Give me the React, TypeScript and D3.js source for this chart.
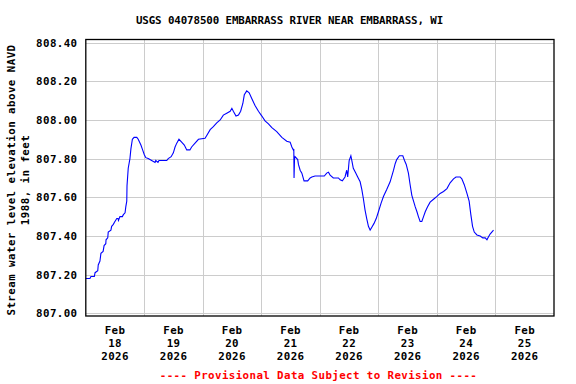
import React from "react";
import * as d3 from "d3";

const title = "USGS 04078500 EMBARRASS RIVER NEAR EMBARRASS, WI";
const yLabelLines = ["Stream water level elevation above NAVD", "1988, in feet"];
const footer = "---- Provisional Data Subject to Revision ----";

const yTicks = [807.0, 807.2, 807.4, 807.6, 807.8, 808.0, 808.2, 808.4];
const xTickDays = [18, 19, 20, 21, 22, 23, 24, 25];

// hours since Feb 18 2026 00:00
const hours = [
  0, 1.7, 2.1, 3.5, 3.8, 4.9, 5.1, 5.8, 6.2, 7.1, 7.5, 8.2, 8.3, 9.0, 9.2, 10.3, 10.6, 11.3, 11.7, 12.7,
  13.2, 13.4, 14.0, 15.0, 15.4, 16.1, 16.4, 16.8, 16.9, 17.4, 18.1, 18.5, 19.1, 19.8, 20.9, 21.5, 22.6, 23.3, 24.0, 24.6,
  25.6, 27.0, 28.4, 28.7, 29.6, 30.0, 33.2, 33.8, 35.0, 35.9, 36.6, 37.3, 38.2, 39.3, 40.4,
  41.4, 42.7, 43.4, 44.8, 46.2, 48.9, 49.6, 51.0, 52.3, 53.7, 55.1, 56.4, 57.8, 59.2, 59.9, 60.5, 61.6, 62.6, 63.5,
  64.4, 65.0, 66.0, 67.0, 68.1, 69.4, 70.8, 72.2, 73.5, 74.9, 76.3, 78.3, 80.4, 82.4, 83.8,
  84.5, 85.1, 85.3, 85.4, 85.6, 85.8, 86.9, 87.2, 87.9, 88.6, 89.5, 91.0, 92.0, 92.7, 94.0, 97.8, 98.8, 99.5, 100.2,
  101.5, 103.6, 104.3, 105.2, 106.3, 107.0, 107.4, 108.0, 108.7, 109.1, 109.7, 110.7, 111.5, 112.5, 113.2, 113.8,
  114.5, 115.2, 115.9, 116.6, 117.3, 118.2, 119.1, 120.0, 121.1, 122.1, 123.4, 124.8, 126.2, 126.9, 127.5, 128.6,
  130.0, 130.7, 131.4, 132.3, 133.0, 133.7, 134.4, 135.1, 135.8, 136.4, 137.1, 137.8, 138.5, 139.2, 140.1, 141.2,
  142.6, 144.0, 145.3, 146.7, 148.1, 149.4, 150.8, 151.8, 153.5, 154.2, 155.2, 156.3, 157.2, 157.9, 158.6, 159.3,
  160.4, 161.7, 162.8, 163.8, 164.5, 165.1, 165.8, 166.5, 167.2,
];

const levels = [
  807.18, 807.18, 807.19, 807.19, 807.21, 807.22, 807.25, 807.27, 807.31, 807.32, 807.35, 807.36, 807.38, 807.39, 807.42, 807.43, 807.45, 807.46, 807.47, 807.49,
  807.49, 807.48, 807.5, 807.5, 807.51, 807.52, 807.55, 807.58, 807.66, 807.75, 807.8, 807.85, 807.9, 807.91, 807.91, 807.9, 807.87, 807.845, 807.82, 807.805,
  807.8, 807.79, 807.78, 807.79, 807.78, 807.79, 807.79, 807.8, 807.81, 807.83, 807.86, 807.88, 807.9, 807.885, 807.87,
  807.845, 807.845, 807.86, 807.88, 807.9, 807.905, 807.92, 807.95, 807.965, 807.985, 808.0, 808.025, 808.035, 808.045, 808.06, 808.045, 808.02, 808.025, 808.045,
  808.085, 808.13, 808.15, 808.14, 808.11, 808.075, 808.045, 808.02, 807.995, 807.98, 807.96, 807.94, 807.91, 807.89, 807.885,
  807.86, 807.845, 807.85, 807.7, 807.8, 807.81, 807.795, 807.77, 807.74, 807.725, 807.685, 807.685, 807.7, 807.705, 807.71, 807.71, 807.725, 807.73, 807.715,
  807.7, 807.7, 807.69, 807.685, 807.705, 807.74, 807.705, 807.79, 807.815, 807.79, 807.75, 807.725, 807.705, 807.68, 807.64, 807.595,
  807.535, 807.49, 807.45, 807.43, 807.445, 807.465, 807.49, 807.525, 807.57, 807.605, 807.64, 807.68, 807.74, 807.775, 807.795, 807.815,
  807.815, 807.79, 807.77, 807.725, 807.665, 807.61, 807.58, 807.55, 807.525, 807.5, 807.475, 807.475, 807.5, 807.525, 807.55, 807.575,
  807.59, 807.605, 807.62, 807.63, 807.645, 807.675, 807.695, 807.705, 807.705, 807.695, 807.665, 807.62, 807.58, 807.51, 807.45, 807.42,
  807.405, 807.4, 807.39, 807.39, 807.38, 807.395, 807.41, 807.42, 807.43,
];

const W = 576;
const H = 384;
const font = "'DejaVu Sans Mono', monospace";
const start = Date.UTC(2026, 1, 18);

export default function App() {
  const x = d3
    .scaleUtc()
    .domain([new Date(start), new Date(Date.UTC(2026, 1, 26))])
    .range([85.8, 554]);
  const y = d3.scaleLinear().domain([806.986, 808.416]).range([316, 39.5]);

  const data = hours.map((h, i) => ({ t: new Date(start + h * 3600000), v: levels[i] }));
  const line = d3
    .line<{ t: Date; v: number }>()
    .x((d) => x(d.t))
    .y((d) => y(d.v));

  const [x0, x1] = x.range();
  const [yb, yt] = y.range();
  const gridDays = xTickDays.slice(1).map((d) => new Date(Date.UTC(2026, 1, d)));

  return (
    <svg width={W} height={H} style={{ position: "absolute", left: 0, top: 0, background: "#fff" }}>
      <rect x={0} y={0} width={W} height={H} fill="#fff" />
      <text x={289.5} y={24} textAnchor="middle" fontFamily={font} fontWeight="bold" fontSize={10.8} letterSpacing={-0.1}>
        {title}
      </text>
      {yTicks.map((t) => (
        <line key={"hy" + t} x1={x0} x2={x1} y1={Math.round(y(t)) + 0.5} y2={Math.round(y(t)) + 0.5} stroke="#cccccc" strokeWidth={1} />
      ))}
      {gridDays.map((d, i) => (
        <line key={"vx" + i} x1={Math.round(x(d)) + 0.5} x2={Math.round(x(d)) + 0.5} y1={yt} y2={yb} stroke="#cccccc" strokeWidth={1} />
      ))}
      <path d={line(data) || ""} fill="none" stroke="#0000ff" strokeWidth={1.1} />
      <rect x={x0} y={yt} width={x1 - x0} height={yb - yt} fill="none" stroke="#000" strokeWidth={1.3} />
      {yTicks.map((t) => (
        <text key={"ly" + t} x={77.5} y={y(t) + 4} textAnchor="end" fontFamily={font} fontWeight="bold" fontSize={10.8} letterSpacing={0.4}>
          {t.toFixed(2)}
        </text>
      ))}
      {xTickDays.map((d) => {
        const cx = x(new Date(Date.UTC(2026, 1, d, 12)));
        return (
          <text key={"lx" + d} textAnchor="middle" fontFamily={font} fontWeight="bold" fontSize={10.8} letterSpacing={0.4}>
            <tspan x={cx} y={334}>Feb</tspan>
            <tspan x={cx} y={347}>{String(d)}</tspan>
            <tspan x={cx} y={360}>2026</tspan>
          </text>
        );
      })}
      {yLabelLines.map((s, i) => (
        <text
          key={"yl" + i}
          transform={`translate(${15 + i * 14},${180}) rotate(-90)`}
          textAnchor="middle"
          fontFamily={font}
          fontWeight="bold"
          fontSize={10.8}
          letterSpacing={0.45}
        >
          {s}
        </text>
      ))}
      <text x={318.5} y={379} textAnchor="middle" fill="#ff0000" fontFamily={font} fontWeight="bold" fontSize={10.8} letterSpacing={0.4}>
        {footer}
      </text>
    </svg>
  );
}
